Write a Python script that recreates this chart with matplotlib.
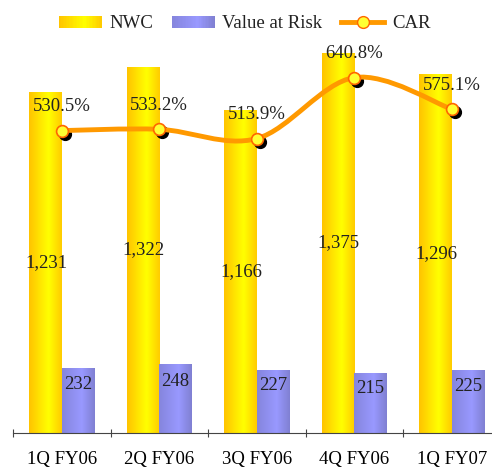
import matplotlib
matplotlib.use('Agg')
import matplotlib.pyplot as plt
import numpy as np
from matplotlib.path import Path
from matplotlib.patches import PathPatch, Rectangle
from matplotlib.legend_handler import HandlerBase
from matplotlib.lines import Line2D
from matplotlib.colors import LinearSegmentedColormap
from matplotlib.transforms import offset_copy

# data
quarters = ['1Q FY06', '2Q FY06', '3Q FY06', '4Q FY06', '1Q FY07']
nwc = [1231, 1322, 1166, 1375, 1296]
var = [232, 248, 227, 215, 225]
car = [530.5, 533.2, 513.9, 640.8, 575.1]

plt.rcParams['font.family'] = ['Liberation Serif', 'DejaVu Serif']
plt.rcParams['font.size'] = 13.5
plt.rcParams['text.color'] = '#222222'

nwc_cmap = LinearSegmentedColormap.from_list('nwc', [(0, '#FFC400'), (0.6, '#FFFF00'), (1, '#FFCC00')])
var_cmap = LinearSegmentedColormap.from_list('var', [(0, '#8585DD'), (0.6, '#9999FF'), (1, '#8080D2')])
grad = np.linspace(0, 1, 64).reshape(1, -1)


def gradient_bar(ax, x0, w, h, cmap, z=2):
    ax.imshow(grad, cmap=cmap, extent=[x0, x0 + w, 0, h], aspect='auto',
              interpolation='bilinear', zorder=z)


class GradientHandler(HandlerBase):
    def __init__(self, cmap):
        super().__init__()
        self.cmap = cmap

    def create_artists(self, legend, orig_handle, xdescent, ydescent,
                       width, height, fontsize, trans):
        n = 30
        arts = []
        for i in range(n):
            arts.append(Rectangle((-xdescent + width * i / n, -ydescent),
                                  width / n * 1.1, height,
                                  facecolor=self.cmap(i / (n - 1)),
                                  edgecolor='none', transform=trans))
        return arts


def smooth_path(xs, ys):
    # Catmull-Rom through the points, as cubic bezier segments
    pts = np.column_stack([xs, ys]).astype(float)
    n = len(pts)
    verts = [pts[0]]
    codes = [Path.MOVETO]
    for i in range(n - 1):
        p0 = pts[max(i - 1, 0)]
        p1, p2 = pts[i], pts[i + 1]
        p3 = pts[min(i + 2, n - 1)]
        verts += [p1 + (p2 - p0) / 6, p2 - (p3 - p1) / 6, p2]
        codes += [Path.CURVE4] * 3
    return Path(verts, codes)


fig = plt.figure(figsize=(4.92, 4.68), dpi=100)
ax = fig.add_axes([13 / 492, 35.3 / 468, 487.5 / 492, 392.7 / 468])
x = np.arange(len(quarters))
w = 0.335

for i in range(len(quarters)):
    gradient_bar(ax, x[i] - w, w, nwc[i], nwc_cmap)
    gradient_bar(ax, x[i], w, var[i], var_cmap)
    ax.text(x[i] - w / 2 + 0.01, nwc[i] / 2, f'{nwc[i]:,}', ha='center', va='center', zorder=3)
    ax.text(x[i] + w / 2, var[i] * 0.75, f'{var[i]:,}', ha='center', va='center', zorder=3)

ax.set_xlim(-0.5, 4.5)
ax.set_ylim(0, 1421)
for s in ['top', 'right', 'left']:
    ax.spines[s].set_visible(False)
ax.spines['bottom'].set_color('#444444')
ax.set_yticks([])
ax.set_xticks(np.arange(-0.5, 5, 1))
ax.set_xticklabels([])
ax.tick_params(axis='x', which='major', direction='inout', length=6, color='#444444')
ax.set_xticks(x, minor=True)
ax.set_xticklabels(quarters, minor=True)
ax.tick_params(axis='x', which='minor', length=0, pad=13)

ax2 = ax.twinx()
ax2.set_ylim(-98, 719)
ax2.set_xlim(-0.5, 4.5)
for s in ax2.spines.values():
    s.set_visible(False)
ax2.set_yticks([])

shadow = offset_copy(ax2.transData, fig=fig, x=3, y=-3, units='dots')
ax2.plot(x, car, 'o', color='black', ms=8.5, transform=shadow, zorder=4)
ax2.add_patch(PathPatch(smooth_path(x, car), facecolor='none', edgecolor='#FF9900',
                        lw=3.5, zorder=5))
ax2.plot(x, car, 'o', ms=8.5, markerfacecolor='#FFFF33', markeredgecolor='#FF6600',
         markeredgewidth=1.2, zorder=6)
for i in range(len(quarters)):
    ax2.annotate(f'{car[i]:.1f}%', (x[i], car[i]), xytext=(0, 24),
                 textcoords='offset pixels', ha='center', va='center', zorder=7)

h_nwc = Rectangle((0, 0), 1, 1)
h_var = Rectangle((0, 0), 1, 1)
h_car = Line2D([], [], color='#FF9900', lw=3.5, marker='o', ms=8.5,
               markerfacecolor='#FFFF33', markeredgecolor='#FF6600')
fig.legend([h_nwc, h_var, h_car], ['NWC', 'Value at Risk', 'CAR'],
           handler_map={h_nwc: GradientHandler(nwc_cmap), h_var: GradientHandler(var_cmap)},
           loc='center', bbox_to_anchor=(0.497, 1 - 24 / 468), ncol=3, frameon=False,
           handlelength=2.3, handleheight=0.6, handletextpad=0.4, columnspacing=1.0,
           borderpad=0, borderaxespad=0)

fig.savefig('out.png', dpi=100)
